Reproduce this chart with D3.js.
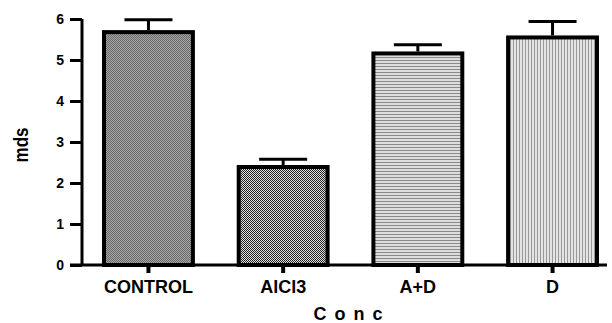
<!DOCTYPE html>
<html><head><meta charset="utf-8">
<script src="https://cdn.jsdelivr.net/npm/d3@7"></script>
<style>body{margin:0;background:#fff}svg{display:block}text{font-family:"Liberation Sans",Arial,sans-serif;font-weight:bold}</style>
</head><body>
<svg id="c" width="612" height="323"></svg>
<script>
const categories = ["CONTROL", "AlCl3", "A+D", "D"];
const means = [5.68, 2.39, 5.16, 5.55];
const errors = [0.30, 0.19, 0.21, 0.39];
const yTicks = [0, 1, 2, 3, 4, 5, 6];
const patternIds = ["pDots", "pChecker", "pHoriz", "pVert"];
const yLabel = "mds";
const xLabel = "Conc";

const svg = d3.select("#c");
const defs = svg.append("defs");
// patterns
let p = defs.append("pattern").attr("id","pDots").attr("patternUnits","userSpaceOnUse").attr("width",2).attr("height",2);
p.append("rect").attr("width",2).attr("height",2).attr("fill","#a6a6a6");
p.append("rect").attr("width",1).attr("height",1).attr("fill","#6a6a6a");
p.append("rect").attr("x",1).attr("y",1).attr("width",1).attr("height",1).attr("fill","#6a6a6a");
p = defs.append("pattern").attr("id","pChecker").attr("patternUnits","userSpaceOnUse").attr("width",2).attr("height",2);
p.append("rect").attr("width",2).attr("height",2).attr("fill","#e0e0e0");
p.append("rect").attr("width",1).attr("height",1).attr("fill","#222");
p.append("rect").attr("x",1).attr("y",1).attr("width",1).attr("height",1).attr("fill","#222");
p = defs.append("pattern").attr("id","pHoriz").attr("patternUnits","userSpaceOnUse").attr("width",3).attr("height",3);
p.append("rect").attr("width",3).attr("height",3).attr("fill","#dedede");
p.append("rect").attr("width",3).attr("height",1).attr("fill","#8a8a8a");
p = defs.append("pattern").attr("id","pVert").attr("patternUnits","userSpaceOnUse").attr("width",3).attr("height",3);
p.append("rect").attr("width",3).attr("height",3).attr("fill","#e4e4e4");
p.append("rect").attr("width",1).attr("height",3).attr("fill","#999");

const y = d3.scaleLinear().domain([0, 6]).range([265, 19]);
const x = d3.scaleBand().domain(categories).range([83.8, 617.2]).paddingInner(0.34).paddingOuter(0.15);

// bars
svg.append("g").selectAll("rect").data(categories).join("rect")
  .attr("x", d => x(d)).attr("width", x.bandwidth())
  .attr("y", (d,i) => y(means[i])).attr("height", (d,i) => y(0) - y(means[i]))
  .attr("fill", (d,i) => `url(#${patternIds[i]})`)
  .attr("stroke", "#000").attr("stroke-width", 4);

// error bars
const eb = svg.append("g").attr("stroke","#000").attr("stroke-width",3);
categories.forEach((c,i) => {
  const cx = x(c) + x.bandwidth()/2;
  eb.append("line").attr("x1",cx).attr("x2",cx).attr("y1",y(means[i])-2).attr("y2",y(means[i]+errors[i]));
  eb.append("line").attr("x1",cx-24).attr("x2",cx+24).attr("y1",y(means[i]+errors[i])).attr("y2",y(means[i]+errors[i]));
});

// y axis
const ya = svg.append("g").attr("transform","translate(82,0)")
  .call(d3.axisLeft(y).tickValues(yTicks).tickSize(12).tickPadding(6).tickFormat(d3.format("d")));
ya.select(".domain").attr("stroke-width",3).attr("d", `M0,${y(6)}V${y(0)+1}`);
ya.selectAll(".tick line").attr("stroke-width",3);
ya.selectAll(".tick text").attr("font-size",14).attr("font-family",null).attr("fill","#000");

// x axis
const xa = svg.append("g").attr("transform",`translate(0,${y(0)})`)
  .call(d3.axisBottom(x).tickSize(8).tickPadding(5));
xa.select(".domain").attr("stroke-width",3).attr("d","M70,0H607");
xa.selectAll(".tick line").attr("stroke-width",4);
xa.selectAll(".tick text").attr("font-size",18).attr("font-family",null).attr("fill","#000").attr("dy","0.85em");

// axis titles
svg.append("text").attr("x", 352).attr("y", 320).attr("text-anchor","middle")
  .attr("font-size",18).attr("letter-spacing","8px").text(xLabel);
svg.append("text").attr("transform","translate(28,145) rotate(-90)").attr("text-anchor","middle")
  .attr("font-size",21).attr("textLength",35).attr("lengthAdjust","spacingAndGlyphs").text(yLabel);
</script>
</body></html>
